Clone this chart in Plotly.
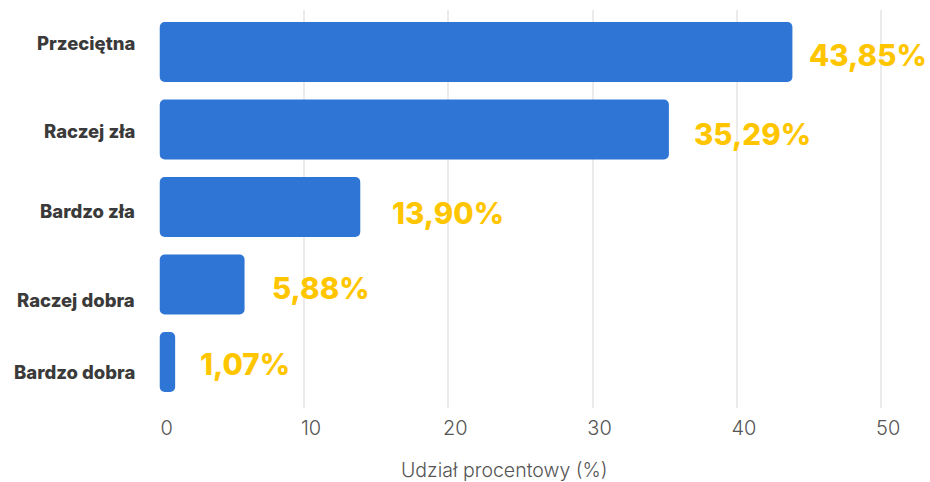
import plotly.graph_objects as go

# Survey answers and their percentage shares
categories = ["Przeciętna", "Raczej zła", "Bardzo zła", "Raczej dobra", "Bardzo dobra"]
shares = [43.85, 35.29, 13.90, 5.88, 1.07]
share_labels = ["43,85%", "35,29%", "13,90%", "5,88%", "1,07%"]
x_ticks = [0, 10, 20, 30, 40, 50]
x_title = "Udział procentowy (%)"

BLUE = "#2E75D6"
YELLOW = "#FFC600"
DARK = "#3A3A3A"
GREY = "#555555"

# Pixel layout of the plotting area
W, H = 930, 482
plot_left, plot_top, plot_bottom = 160, 10, 408
px_per_unit = 14.42
x_min, x_max = -0.05, 52.0
left_margin = plot_left + x_min * px_per_unit
plot_right = plot_left + x_max * px_per_unit

# A base just off zero makes Plotly round both ends of each bar
BAR_BASE = 0.001

fig = go.Figure()
fig.add_trace(go.Bar(
    y=categories, x=[v - BAR_BASE for v in shares], base=[BAR_BASE] * len(shares),
    orientation="h",
    marker=dict(color=BLUE, line=dict(width=0), cornerradius=5),
    hoverinfo="skip", showlegend=False,
))

# Value labels to the right of each bar
label_dx = [15, 23, 30, 25, 23]
label_dy = [-2.5, -4.5, -6, -4, -2]
for cat, v, txt, dx, dy in zip(categories, shares, share_labels, label_dx, label_dy):
    fig.add_annotation(
        x=v, y=cat, xref="x", yref="y", text=txt, showarrow=False,
        xanchor="left", yanchor="middle", xshift=dx, yshift=dy,
        font=dict(family="Inter", size=29.5, color=YELLOW, weight=800),
    )

# Category names on the left
cat_dy = [9.5, -1.5, -4.5, -16, -10.5]
for cat, dy in zip(categories, cat_dy):
    fig.add_annotation(
        x=0, y=cat, xref="paper", yref="y", text=cat, showarrow=False,
        xanchor="right", yanchor="middle", xshift=-22, yshift=dy,
        font=dict(family="Inter", size=18.5, color=DARK, weight=800),
    )

# Axis title
fig.add_annotation(
    x=(505 - left_margin) / (plot_right - left_margin), y=0, xref="paper", yref="paper",
    text=x_title, showarrow=False, xanchor="center", yanchor="top", yshift=-48,
    font=dict(family="Inter", size=19.5, color=GREY, weight=300),
)

fig.update_layout(
    width=W, height=H,
    margin=dict(l=left_margin, r=W - plot_right, t=plot_top, b=H - plot_bottom, pad=0),
    paper_bgcolor="white", plot_bgcolor="white",
    barmode="overlay", bargap=0.226,
    xaxis=dict(
        range=[x_min, x_max], tickvals=x_ticks, ticktext=[str(t) for t in x_ticks],
        showgrid=True, gridcolor="#EBEBEB", gridwidth=1.5, zeroline=False,
        showline=False, ticks="", ticklabelshift=7, ticklabelstandoff=6,
        tickfont=dict(family="Inter", size=20, color=GREY, weight=300),
    ),
    yaxis=dict(
        categoryorder="array", categoryarray=categories,
        range=[4.594, -0.542], showticklabels=False, showgrid=False,
        zeroline=False, showline=False, ticks="",
    ),
)

fig.write_html("out.html")
